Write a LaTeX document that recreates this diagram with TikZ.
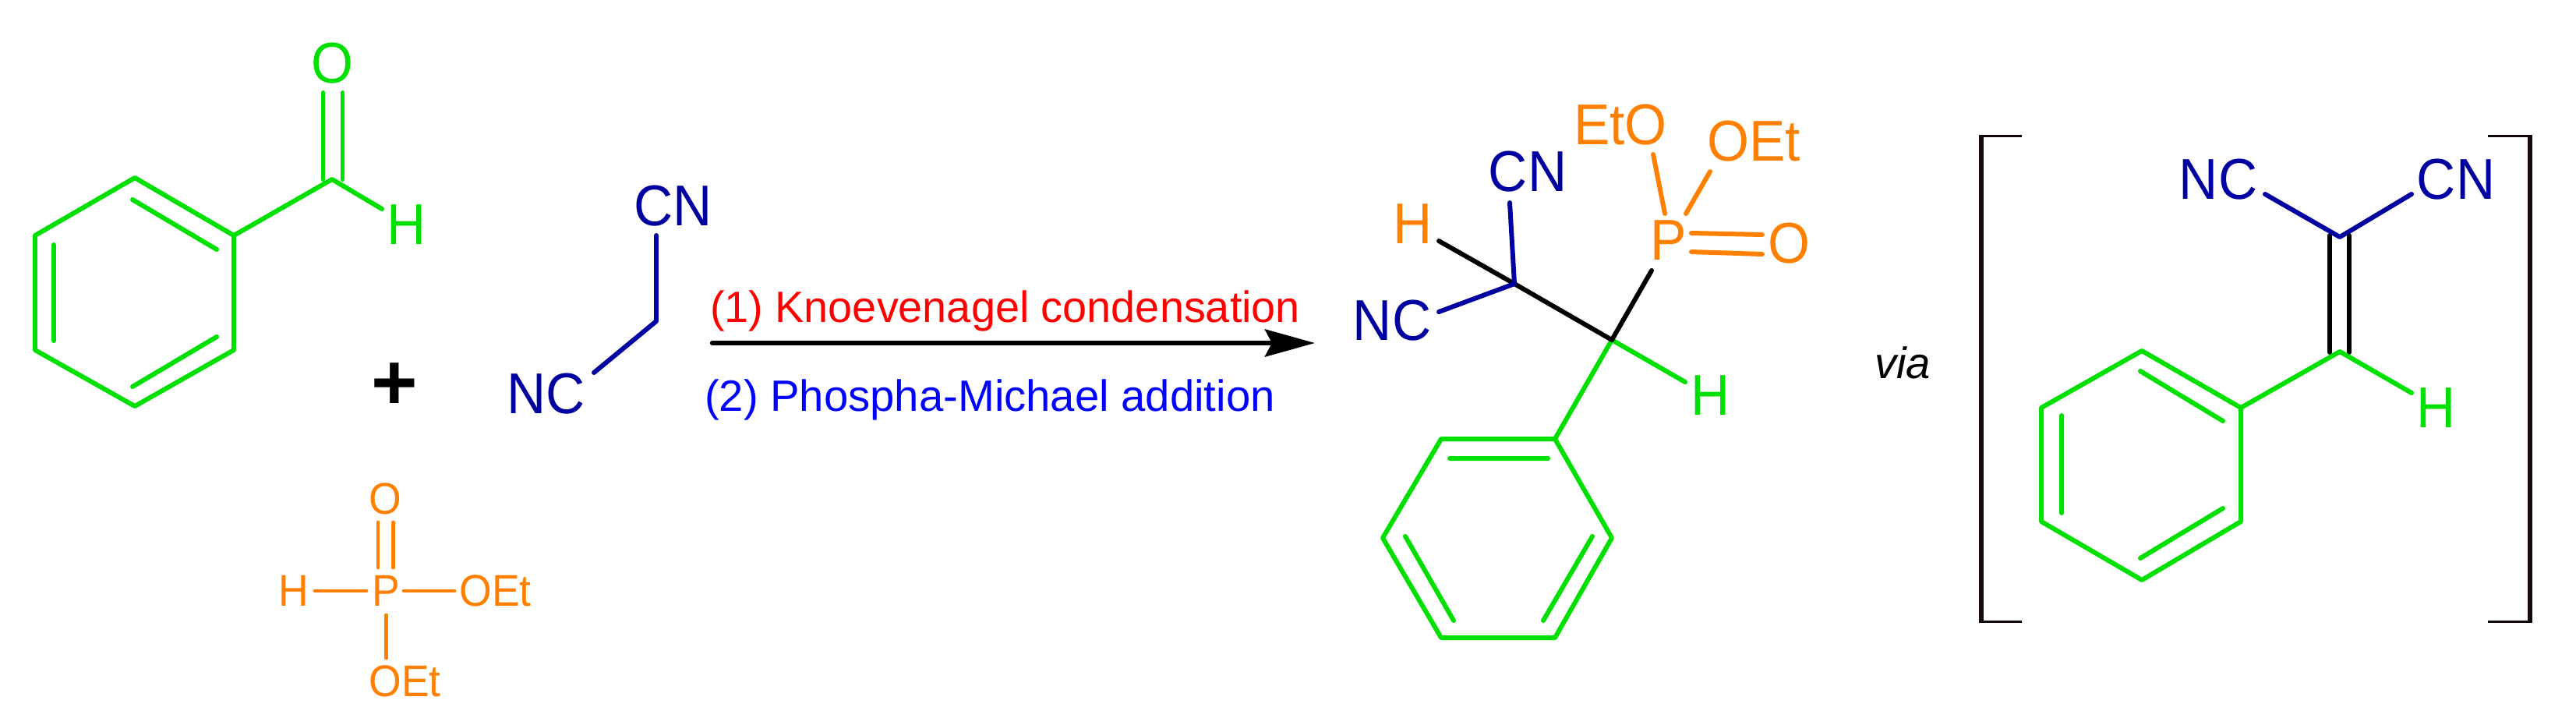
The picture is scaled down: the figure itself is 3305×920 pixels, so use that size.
\documentclass[tikz,border=0pt]{standalone}
\usepackage{fontspec}
\setmainfont{Liberation Sans}
\newfontfamily\condf[FakeStretch=0.94]{Liberation Sans}
\newfontfamily\rxnf[FakeStretch=0.992]{Liberation Sans}
\usetikzlibrary{arrows.meta}
\definecolor{grn}{HTML}{00E000}
\definecolor{navy2}{HTML}{0000A0}
\definecolor{org}{HTML}{FF8000}
\definecolor{brk}{HTML}{140A0A}
\tikzset{
  x=0.01cm,y=-0.01cm,
  lab/.style={inner sep=0pt,outer sep=0pt,font=\condf\fontsize{21pt}{24pt}\selectfont},
  labs/.style={inner sep=0pt,outer sep=0pt,font=\condf\fontsize{16.2pt}{19pt}\selectfont,text=org},
  rxn/.style={inner sep=0pt,outer sep=0pt,anchor=base west,font=\fontsize{16pt}{19pt}\selectfont},
  bond/.style={line width=1.7pt,line cap=round,line join=round},
  gbond/.style={bond,draw=grn},
  nbond/.style={bond,draw=navy2},
  obond/.style={bond,draw=org},
  osmall/.style={bond,line width=1.4pt,draw=org},
  kbond/.style={bond,draw=black},
  brackv/.style={line width=1.7pt,draw=brk,line cap=butt},
  brackh/.style={line width=0.85pt,draw=brk,line cap=butt},
}
\begin{document}
\begin{tikzpicture}
\useasboundingbox (0,0) rectangle (3305,920);
% ---- benzaldehyde
\coordinate (a1) at (173,228); \coordinate (a2) at (300,302); \coordinate (a3) at (300,449);
\coordinate (a4) at (173,521); \coordinate (a5) at (45,449);  \coordinate (a6) at (45,302);
\coordinate (a1i) at (170,256); \coordinate (a2i) at (278,320);
\coordinate (a3i) at (278,432); \coordinate (a4i) at (170,496);
\coordinate (a5i) at (69,437);  \coordinate (a6i) at (69,314);
\coordinate (cho) at (426,230);
\coordinate (choL) at (414.5,230); \coordinate (choR) at (439.5,230);
\coordinate (oL) at (414.5,119); \coordinate (oR) at (439.5,119);
\coordinate (choH) at (490,268);
\node[lab,text=grn] (aO) at (426,81) {O};
\node[lab,text=grn] (aH) at (522,288) {H};
\draw[gbond] (a1)--(a2)--(a3)--(a4)--(a5)--(a6)--cycle;
\draw[gbond] (a1i)--(a2i) (a3i)--(a4i) (a5i)--(a6i);
\draw[gbond] (a2)--(cho)--(choH);
\draw[gbond] (choL)--(oL) (choR)--(oR);
% ---- plus
\node[inner sep=0pt,font=\fontsize{29pt}{30pt}\selectfont\bfseries] (plus) at (506,496) {+};
% ---- malononitrile
\node[lab,text=navy2] (mCN) at (864,264) {CN};
\node[lab,text=navy2] (mNC) at (701,505) {NC};
\coordinate (m1) at (842,302); \coordinate (m2) at (842,412); \coordinate (m3) at (762,478);
\draw[nbond] (m1)--(m2)--(m3);
% ---- phosphite
\node[labs] (pP) at (495.5,758) {P};
\node[labs] (pO) at (494,640) {O};
\node[labs] (pH) at (377,758) {H};
\node[labs] (pE1) at (635.5,758) {OEt};
\node[labs] (pE2) at (519.5,874) {OEt};
\coordinate (pd1a) at (485,670); \coordinate (pd1b) at (485,728);
\coordinate (pd2a) at (504.5,670); \coordinate (pd2b) at (504.5,728);
\coordinate (ph1) at (404,758); \coordinate (ph2) at (470,758);
\coordinate (pe1) at (518,758); \coordinate (pe2) at (583,758);
\coordinate (pl1) at (495.5,789); \coordinate (pl2) at (495.5,844);
\draw[osmall] (pd1a)--(pd1b) (pd2a)--(pd2b) (ph1)--(ph2) (pe1)--(pe2) (pl1)--(pl2);
% ---- arrow
\coordinate (arS) at (914,440); \coordinate (arE) at (1687,440);
\draw[line width=1.8pt,-{Stealth[length=6.4mm,width=3.5mm,inset=0.9mm]},line cap=round] (arS)--(arE);
\node[rxn,font=\rxnf\fontsize{16pt}{19pt}\selectfont,text=red] (t1) at (911,413) {(1) Knoevenagel condensation};
\node[rxn,text=blue] (t2) at (904,527) {(2) Phospha-Michael addition};
% ---- product
\node[lab,text=navy2] (xNC) at (1786,411) {NC};
\node[lab,text=navy2] (xCN) at (1960,220) {CN};
\node[lab,text=org] (xHo) at (1813,287) {H};
\node[lab,text=grn] (xHg) at (2195,507) {H};
\node[lab,text=org] (xP) at (2141,308) {P};
\node[lab,text=org] (xEtO) at (2079,160) {EtO};
\node[lab,text=org] (xOEt) at (2250,181) {OEt};
\node[lab,text=org] (xO) at (2295,312) {O};
\coordinate (c1) at (1943,364); \coordinate (c2) at (2068,436);
\coordinate (c1H) at (1846,309); \coordinate (c1CN) at (1937,260); \coordinate (c1NC) at (1846,400);
\coordinate (c2P) at (2119,347); \coordinate (c2H) at (2162,490);
\coordinate (po1a) at (2121,198); \coordinate (po1b) at (2136,274);
\coordinate (po2a) at (2194,220); \coordinate (po2b) at (2163,274);
\coordinate (pd3a) at (2170,299); \coordinate (pd3b) at (2261,301);
\coordinate (pd4a) at (2170,323); \coordinate (pd4b) at (2261,326);
\coordinate (b1) at (1995,563); \coordinate (b2) at (1849,563); \coordinate (b3) at (1774,690);
\coordinate (b4) at (1849,818); \coordinate (b5) at (1995,818); \coordinate (b6) at (2068,690);
\coordinate (b1i) at (1986,588); \coordinate (b2i) at (1860,588);
\coordinate (b3i) at (1803,688); \coordinate (b4i) at (1865,796);
\coordinate (b5i) at (1980,796); \coordinate (b6i) at (2043,688);
\draw[gbond] (b1)--(b2)--(b3)--(b4)--(b5)--(b6)--cycle;
\draw[gbond] (b1i)--(b2i) (b3i)--(b4i) (b5i)--(b6i);
\draw[gbond] (b1)--(c2)--(c2H);
\draw[kbond] (c1H)--(c1)--(c2)--(c2P);
\draw[nbond] (c1CN)--(c1)--(c1NC);
\draw[obond] (po1a)--(po1b) (po2a)--(po2b) (pd3a)--(pd3b) (pd4a)--(pd4b);
% ---- via
\node[inner sep=0pt,font=\fontsize{16pt}{19pt}\selectfont\itshape] (via) at (2441,465) {via};
% ---- intermediate
\coordinate (bL1) at (2594,174.5); \coordinate (bL2) at (2539,174.5); \coordinate (bL3) at (2539,797); \coordinate (bL4) at (2594,797);
\coordinate (bLa) at (2542,173); \coordinate (bLb) at (2542,798.5);
\coordinate (bR1) at (3192,174.5); \coordinate (bR2) at (3249,174.5); \coordinate (bR3) at (3249,797); \coordinate (bR4) at (3192,797);
\coordinate (bRa) at (3246,173); \coordinate (bRb) at (3246,798.5);
\draw[brackh] (bL1)--(bL2) (bL3)--(bL4) (bR1)--(bR2) (bR3)--(bR4);
\draw[brackv] (bLa)--(bLb) (bRa)--(bRb);
\node[lab,text=navy2] (iNC) at (2846,230) {NC};
\node[lab,text=navy2] (iCN) at (3151,230) {CN};
\node[lab,text=grn] (iH) at (3126,523) {H};
\coordinate (d1) at (3002,304); \coordinate (d2) at (3002,451);
\coordinate (d1a) at (2989,302); \coordinate (d1b) at (2989,452);
\coordinate (d2a) at (3014,302); \coordinate (d2b) at (3014,452);
\coordinate (dNC) at (2906,249); \coordinate (dCN) at (3094,249); \coordinate (dH) at (3094,504);
\coordinate (e1) at (2748,450); \coordinate (e2) at (2875,523); \coordinate (e3) at (2875,669);
\coordinate (e4) at (2748,744); \coordinate (e5) at (2619,669); \coordinate (e6) at (2619,523);
\coordinate (e1i) at (2746,476); \coordinate (e2i) at (2852,540);
\coordinate (e3i) at (2852,652); \coordinate (e4i) at (2746,716);
\coordinate (e5i) at (2645,658); \coordinate (e6i) at (2645,533);
\draw[kbond] (d1a)--(d1b) (d2a)--(d2b);
\draw[nbond] (dNC)--(d1)--(dCN);
\draw[gbond] (e1)--(e2)--(e3)--(e4)--(e5)--(e6)--cycle;
\draw[gbond] (e1i)--(e2i) (e3i)--(e4i) (e5i)--(e6i);
\draw[gbond] (e2)--(d2)--(dH);
\end{tikzpicture}
\end{document}
